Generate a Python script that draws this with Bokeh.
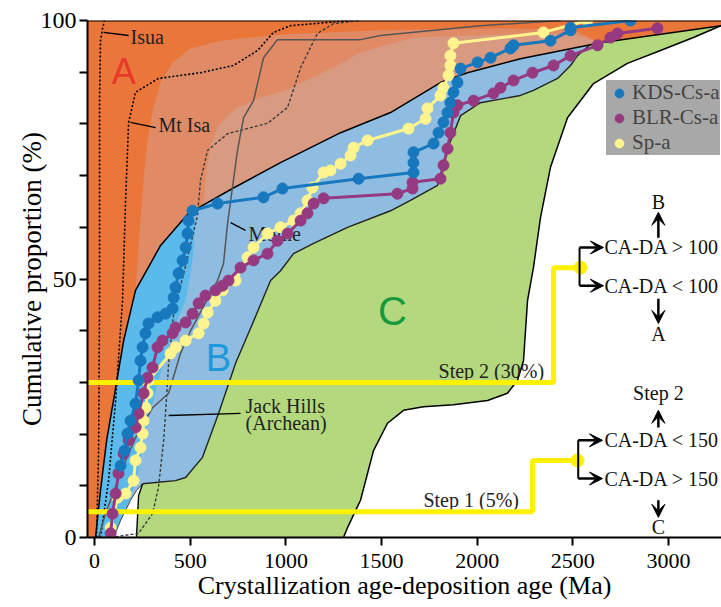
from bokeh.plotting import figure
from bokeh.models import Arrow, VeeHead, Legend, LegendItem, Span, FixedTicker
from bokeh.core.properties import value
from bokeh.embed import file_html
from bokeh.resources import INLINE

# ---------------- data (Ma, %) ----------------
X_MIN, X_MAX = -37, 3277
X_TICKS = [0, 500, 1000, 1500, 2000, 2500, 3000]
Y_TICKS = [0, 10, 20, 30, 40, 50, 60, 70, 80, 90, 100]
X_TITLE = "Crystallization age-deposition age (Ma)"
Y_TITLE = "Cumulative proportion (%)"

# field boundaries
AB_X = [5, 31, 63, 99, 152, 214, 345, 491, 721, 972, 1286, 1547, 1808, 1949, 2226, 2644, 3280]
AB_Y = [0, 9.1, 18.8, 26.5, 38.1, 47.8, 56.5, 62.7, 67.5, 72.5, 78.3, 82.2, 88.0, 89.9, 92.6, 95.7, 99.0]
BC_X = [2590, 2524, 2488, 2420, 2294, 2226, 2017, 1913, 1845, 1793, 1651, 1547, 1322, 1145, 1040, 972,
        920, 826, 737, 648, 564, 476, 423, 251, 219, 188, 136, 99]
BC_Y = [95.3, 93.2, 91.3, 88.8, 86.5, 85.5, 84.1, 81.6, 75.2, 68.1, 65.2, 63.2, 60.0, 56.9, 54.9, 51.6,
        49.7, 41.4, 33.7, 24.0, 15.5, 11.6, 11.0, 10.4, 9.1, 7.2, 3.3, 0]
GL_X = [230, 219]
GL_Y = [8.1, 0]
CR_X = [1301, 1322, 1390, 1458, 1531, 1615, 1719, 1876, 2054, 2158, 2211, 2242, 2263, 2294, 2331, 2383,
        2472, 2608, 2785, 2958, 3130, 3280]
CR_Y = [0, 1.9, 7.2, 16.8, 22.1, 24.6, 25.3, 25.7, 26.5, 27.9, 30.4, 34.2, 45.8, 52.2, 61.9, 71.6,
        81.2, 87.8, 91.7, 94.2, 96.7, 99.1]
BB_X = [528, 512, 476, 408, 334, 267, 225, 190, 140, 99]
BB_Y = [61.3, 53.6, 45.8, 40.0, 30.4, 20.7, 12.5, 8.0, 3.5, 0]
SO_X = [214, 225, 240, 256, 277, 303, 345, 408, 502, 658, 972, 1495, 2122, 2500]
SO_Y = [47.8, 53.6, 61.3, 69.1, 76.8, 82.6, 88.0, 91.9, 94.6, 96.1, 97.3, 98.1, 98.5, 98.2]
SI_X = [570, 585, 606, 648, 737, 857, 998, 1249, 1390, 1667, 2226, 2500]
SI_Y = [64.3, 71.0, 75.8, 79.7, 83.0, 84.9, 86.5, 90.9, 93.8, 96.7, 97.4, 97.3]

# reference detrital-zircon curves
ISUA_X = [10, 21, 26, 26, 31, 42, 52]
ISUA_Y = [0, 16.8, 45.8, 84.5, 96.1, 98.5, 100]
MTISA_X = [31, 73, 110, 146, 162, 178, 214, 334, 554, 726, 852, 935, 1024, 1338]
MTISA_Y = [0, 11.0, 26.5, 45.8, 65.2, 80.3, 86.1, 88.8, 89.9, 91.3, 94.2, 97.7, 99.0, 100]
JH_X = [84, 230, 303, 334, 361, 371, 387, 413, 476, 538, 554, 591, 695, 904, 1009, 1077, 1165, 1249, 1390]
JH_Y = [0, 0.8, 4.6, 9.7, 18.8, 24.0, 33.7, 43.3, 52.6, 62.3, 69.1, 74.9, 78.1, 80.1, 83.2, 90.9, 97.5, 99.4, 100]
MOINE_X = [21, 57, 146, 214, 303, 387, 449, 502, 606, 643, 674, 695, 726, 747, 779, 831, 883, 956,
           1390, 1495, 2017, 2435]
MOINE_Y = [0, 4.6, 13.5, 19.3, 25.1, 27.9, 35.6, 40.0, 47.2, 49.7, 53.0, 60.7, 69.1, 74.9, 81.2, 84.5,
           92.8, 96.3, 96.3, 97.1, 99.0, 100]

# samples
KDS_X = [136, 157, 172, 188, 214, 230, 240, 251, 266, 282, 329, 371, 408, 413, 423, 439, 460, 476, 486, 491,
         512, 643, 883, 982, 1380, 1667, 1667, 1667, 1772, 1798, 1824, 1845, 1860, 1876, 1897, 1913, 2002,
         2070, 2174, 2190, 2383, 2488, 2488, 2801]
KDS_Y = [13.9, 16.8, 20.1, 22.6, 25.9, 30.4, 34.2, 36.8, 39.5, 41.4, 42.6, 43.3, 44.3, 46.4, 48.4, 51.1,
         53.6, 56.1, 58.8, 61.3, 63.2, 64.6, 65.8, 67.5, 69.4, 70.6, 72.5, 74.5, 76.2, 78.3, 80.3, 82.2,
         84.1, 86.1, 88.0, 90.7, 91.9, 92.8, 94.6, 95.2, 96.1, 98.1, 98.6, 100]
BLR_X = [84, 94, 110, 125, 152, 178, 214, 230, 256, 277, 303, 329, 355, 408, 423, 476, 512, 544, 580, 632,
         669, 700, 763, 831, 904, 956, 1009, 1077, 1113, 1145, 1197, 1583, 1662, 1662, 1808, 1824, 1845,
         1860, 1876, 1897, 1981, 2085, 2122, 2190, 2289, 2399, 2488, 2629, 2697, 2733, 2942]
BLR_Y = [0.8, 4.6, 8.5, 12.4, 16.2, 18.8, 21.3, 24.0, 27.9, 30.9, 32.9, 36.8, 38.1, 39.5, 40.6, 41.6,
         43.3, 45.3, 46.8, 47.8, 48.7, 49.7, 52.2, 53.6, 54.9, 57.4, 58.8, 61.3, 62.7, 64.6, 65.6, 66.5,
         67.5, 68.7, 69.4, 72.0, 75.2, 78.3, 82.2, 83.6, 84.5, 85.9, 87.0, 88.4, 89.9, 91.3, 93.2, 95.2,
         96.7, 97.5, 98.5]
SP_X = [84, 120, 162, 204, 214, 240, 251, 256, 267, 277, 282, 397, 423, 476, 544, 570, 591, 632, 669, 737,
        800, 831, 904, 972, 1040, 1077, 1113, 1139, 1197, 1233, 1286, 1338, 1354, 1427, 1641, 1730, 1740,
        1808, 1824, 1850, 1860, 1860, 1876, 2346, 2576]
SP_Y = [1.9, 7.7, 8.5, 11.0, 14.9, 17.4, 20.1, 22.6, 25.1, 27.9, 30.4, 35.6, 36.8, 38.1, 39.5, 41.4, 43.5,
        45.8, 47.8, 49.7, 54.2, 56.1, 58.8, 60.0, 61.3, 62.7, 65.2, 67.7, 70.6, 71.0, 72.3, 73.9, 75.4,
        76.8, 79.1, 81.0, 83.0, 85.5, 87.0, 89.4, 91.3, 93.2, 95.6, 97.7, 100]
SERIES = ["KDS-Cs-a", "BLR-Cs-a", "Sp-a"]

# decision steps
STEP2_X = [X_MIN, 2399, 2399, 2540]
STEP2_Y = [30, 30, 52.2, 52.2]
STEP1_X = [X_MIN, 2289, 2289, 2524]
STEP1_Y = [5, 5, 14.9, 14.9]
DOT_X = [2540, 2524]
DOT_Y = [52.2, 14.9]
BR_X = [2535, 2528]
BR_Y0 = [48.7, 11.4]
BR_Y1 = [56.1, 18.8]
HARR_Y = [56.1, 48.7, 18.8, 11.4]
HARR_X0 = [2535, 2535, 2528, 2528]
HARR_X1 = [2660, 2660, 2655, 2655]
CA_TEXT = ["CA-DA > 100", "CA-DA < 100", "CA-DA < 150", "CA-DA > 150"]
CA_X = 2665
VARR_X = 2947
VARR_Y0 = [58.0, 46.2, 21.3, 7.2]
VARR_Y1 = [62.9, 41.4, 24.6, 3.9]
OUT_TEXT = ["B", "A", "Step 2", "C"]
OUT_Y = [64.8, 39.4, 28.0, 2.1]

LBL_TEXT = ["Isua", "Mt Isa", "Moine", "Jack Hills", "(Archean)", "Step 2 (30%)", "Step 1 (5%)"]
LBL_X = [188, 334, 805, 789, 789, 1798, 1719]
LBL_Y = [96.9, 79.7, 58.8, 25.5, 22.2, 32.3, 7.2]
LEAD_X0 = [47, 188, 711, 387]
LEAD_Y0 = [97.7, 80.3, 60.9, 23.6]
LEAD_X1 = [178, 319, 789, 763]
LEAD_Y1 = [97.1, 79.3, 59.4, 24.0]

REG_TEXT = ["A", "B", "C"]
REG_X = [152, 648, 1557]
REG_Y = [90.1, 34.8, 43.9]

# ---------------- styles ----------------
ORANGE = "#EA763A"
SALMON1 = "#E08B66"
SALMON2 = "#D89A80"
GREEN = "#B4D87D"
BLUE = "#8FBDE2"
BRIGHT = "#5BBAEC"
KDS_C = "#1878BE"
BLR_C = "#953A80"
SP_C = "#FFF48E"
YEL = "#FFF200"
SERIF = "Liberation Serif"

p = figure(width=721, height=607, x_range=(X_MIN, X_MAX), y_range=(0, 100),
           output_backend="svg", toolbar_location=None,
           min_border_left=87, min_border_right=0, min_border_top=20, min_border_bottom=70)
p.xgrid.visible = False
p.ygrid.visible = False
p.outline_line_color = None
p.background_fill_color = "white"
p.border_fill_color = "white"

for ax in (p.xaxis[0], p.yaxis[0]):
    ax.axis_line_width = 2
    ax.axis_line_color = "black"
    ax.major_tick_line_width = 2
    ax.major_tick_line_color = "black"
    ax.major_tick_out = 8
    ax.major_tick_in = 0
    ax.minor_tick_line_color = None
    ax.major_label_text_font = SERIF
    ax.major_label_text_color = "black"
    ax.axis_label_text_font = SERIF
    ax.axis_label_text_font_style = "normal"
    ax.axis_label_text_color = "black"
p.xaxis.major_label_text_font_size = "22px"
p.xaxis.major_label_standoff = 8
p.xaxis.axis_label_standoff = 0
p.xaxis.axis_label_text_font_size = "26px"
p.yaxis.major_label_text_font_size = "24px"
p.yaxis.major_label_standoff = 3
p.yaxis.axis_label_standoff = -9
p.yaxis.axis_label_text_font_size = "27px"
p.xaxis.ticker = FixedTicker(ticks=X_TICKS)
p.yaxis.ticker = FixedTicker(ticks=Y_TICKS)
p.yaxis.major_label_overrides = {t: "" for t in Y_TICKS if t % 50}
p.xaxis.axis_label = X_TITLE
p.yaxis.axis_label = Y_TITLE

# ---------------- fields ----------------
p.patch([X_MIN] + AB_X + [X_MAX + 10, X_MIN], [0] + AB_Y + [100, 100], fill_color=ORANGE, line_color=None)
p.patch(SO_X + AB_X[15:4:-1], SO_Y + AB_Y[15:4:-1], fill_color=SALMON1, line_color=None)
p.patch(SI_X + AB_X[15:7:-1], SI_Y + AB_Y[15:7:-1], fill_color=SALMON2, line_color=None)
p.patch(BC_X[:24] + GL_X + CR_X + AB_X[:14:-1], BC_Y[:24] + GL_Y + CR_Y + AB_Y[:14:-1],
        fill_color=GREEN, line_color=None)
p.patch(AB_X[:15] + BC_X, AB_Y[:15] + BC_Y, fill_color=BLUE, line_color=None)
p.patch(AB_X[:8] + BB_X, AB_Y[:8] + BB_Y, fill_color=BRIGHT, line_color=None)

p.line(AB_X, AB_Y, line_color="black", line_width=1.5)
p.line(BC_X[:24], BC_Y[:24], line_color="#222222", line_width=1.4)
p.line(BC_X[23:], BC_Y[23:], line_color="#444444", line_width=1.0)
p.line(BC_X[23:24] + GL_X, BC_Y[23:24] + GL_Y, line_color="black", line_width=1.4)
p.line(CR_X, CR_Y, line_color="black", line_width=1.5)

# reference curves
p.line(ISUA_X, ISUA_Y, line_color="black", line_width=1.6, line_dash="2 2")
p.line(MTISA_X, MTISA_Y, line_color="black", line_width=1.6, line_dash="2 2")
p.line(JH_X, JH_Y, line_color="#3a3a3a", line_width=1.4, line_dash="3 2")
p.line(MOINE_X, MOINE_Y, line_color="#555555", line_width=1.5)

# labels of the reference curves
p.segment(LEAD_X0, LEAD_Y0, LEAD_X1, LEAD_Y1, line_color="black", line_width=1.3)
p.text(LBL_X, LBL_Y, text=LBL_TEXT, text_font=value(SERIF), text_font_size=value("20px"),
       text_baseline="middle", text_align="left", text_color="#222222")

# step lines
p.line(STEP2_X, STEP2_Y, line_color=YEL, line_width=5)
p.line(STEP1_X, STEP1_Y, line_color=YEL, line_width=5)
p.scatter(DOT_X, DOT_Y, size=13, fill_color=YEL, line_color=YEL)

# samples
r_sp_l = p.line(SP_X, SP_Y, line_color=SP_C, line_width=3)
r_sp = p.scatter(SP_X, SP_Y, size=11, fill_color=SP_C, line_color=SP_C)
r_blr_l = p.line(BLR_X, BLR_Y, line_color=BLR_C, line_width=3)
r_blr = p.scatter(BLR_X, BLR_Y, size=11, fill_color=BLR_C, line_color=BLR_C)
r_kds_l = p.line(KDS_X, KDS_Y, line_color=KDS_C, line_width=3)
r_kds = p.scatter(KDS_X, KDS_Y, size=11, fill_color=KDS_C, line_color=KDS_C)

# region letters
p.text(REG_X[:1], REG_Y[:1], text=REG_TEXT[:1], text_font=value("Liberation Sans"),
       text_font_size=value("36px"), text_align="center", text_baseline="middle", text_color="#E8392B")
p.text(REG_X[1:2], REG_Y[1:2], text=REG_TEXT[1:2], text_font=value("Liberation Sans"),
       text_font_size=value("38px"), text_align="center", text_baseline="middle", text_color="#1D98DA")
p.text(REG_X[2:], REG_Y[2:], text=REG_TEXT[2:], text_font=value("Liberation Sans"),
       text_font_size=value("40px"), text_align="center", text_baseline="middle", text_color="#169A3E")

# decision brackets and arrows
p.segment(BR_X, BR_Y0, BR_X, BR_Y1, line_color="black", line_width=2)
for x0, x1, y in zip(HARR_X0, HARR_X1, HARR_Y):
    p.add_layout(Arrow(end=VeeHead(size=13, fill_color="black", line_color="black"),
                       x_start=x0, y_start=y, x_end=x1, y_end=y, line_width=2.5, line_color="black"))
for y0, y1 in zip(VARR_Y0, VARR_Y1):
    p.add_layout(Arrow(end=VeeHead(size=13, fill_color="black", line_color="black"),
                       x_start=VARR_X, y_start=y0, x_end=VARR_X, y_end=y1, line_width=2.5, line_color="black"))
p.text([CA_X] * len(CA_TEXT), HARR_Y, text=CA_TEXT, text_font=value(SERIF), text_font_size=value("20px"),
       text_baseline="middle", text_align="left", text_color="#111111")
p.text([VARR_X] * len(OUT_TEXT), OUT_Y, text=OUT_TEXT, text_font=value(SERIF), text_font_size=value("20px"),
       text_baseline="middle", text_align="center", text_color="#111111")

# top frame line
p.add_layout(Span(location=100, dimension="width", line_color="black", line_width=2))

legend = Legend(items=[LegendItem(label=SERIES[0], renderers=[r_kds]),
                       LegendItem(label=SERIES[1], renderers=[r_blr]),
                       LegendItem(label=SERIES[2], renderers=[r_sp])],
                location=(519, 382), background_fill_color="#A8A8A8", background_fill_alpha=1,
                border_line_color=None, label_text_font=SERIF, label_text_font_size="21px",
                glyph_width=26, glyph_height=22, label_height=20, spacing=0, padding=0, margin=0,
                label_standoff=-7)
p.add_layout(legend)

open("out.html", "w").write(file_html(p, INLINE))
